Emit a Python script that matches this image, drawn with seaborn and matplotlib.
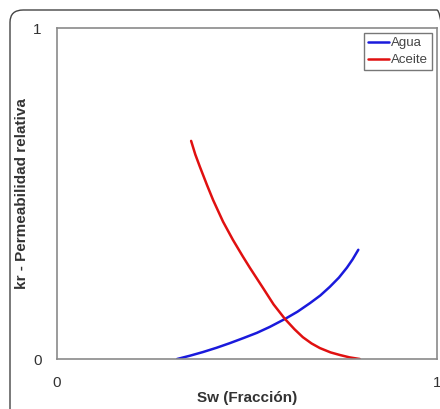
import numpy as np
import pandas as pd
import seaborn as sns
import matplotlib.pyplot as plt
from matplotlib.patches import FancyBboxPatch

# datos
sw_agua = [0.316, 0.350, 0.384, 0.420, 0.455, 0.490, 0.526, 0.560, 0.600, 0.633, 0.666, 0.693, 0.718, 0.742, 0.763, 0.778, 0.793]
kr_agua = [0.0, 0.010, 0.021, 0.034, 0.048, 0.063, 0.079, 0.097, 0.121, 0.143, 0.169, 0.192, 0.218, 0.246, 0.276, 0.301, 0.330]

sw_aceite = [0.353, 0.364, 0.376, 0.395, 0.411, 0.437, 0.463, 0.489, 0.508, 0.525, 0.542, 0.570, 0.600, 0.625, 0.647, 0.670, 0.692, 0.720, 0.745, 0.770, 0.797]
kr_aceite = [0.659, 0.618, 0.581, 0.525, 0.480, 0.415, 0.360, 0.310, 0.275, 0.245, 0.215, 0.165, 0.121, 0.090, 0.066, 0.047, 0.033, 0.020, 0.012, 0.005, 0.0]

df = pd.concat([
    pd.DataFrame({"Sw": sw_agua, "kr": kr_agua, "Fase": "Agua"}),
    pd.DataFrame({"Sw": sw_aceite, "kr": kr_aceite, "Fase": "Aceite"}),
])

sns.set_style("white")
plt.rcParams['font.family'] = ['Liberation Sans', 'DejaVu Sans']

fig = plt.figure(figsize=(4.4, 4.09), dpi=100)
ax = fig.add_axes([0.1295, 0.1222, 0.8636, 0.8093])

sns.lineplot(data=df, x="Sw", y="kr", hue="Fase", palette={"Agua": "#1a1adc", "Aceite": "#e01010"},
             linewidth=1.8, sort=False, ax=ax)

ax.set_xlim(0, 1)
ax.set_ylim(0, 1)
ax.set_xticks([0, 1])
ax.set_yticks([0, 1])
ax.tick_params(axis='x', length=0, pad=12, labelsize=11, colors='#333333')
ax.tick_params(axis='y', length=0, pad=11, labelsize=11, colors='#333333')
for s in ax.spines.values():
    s.set_color('#8a8a8a')
    s.set_linewidth(1.2)

ax.set_xlabel('Sw (Fracción)', fontsize=11, fontweight='bold', color='#333333', labelpad=1)
ax.set_ylabel('kr - Permeabilidad relativa', fontsize=11, fontweight='bold', color='#333333', labelpad=3)

leg = ax.legend(loc='upper right', fontsize=9.5, frameon=True, fancybox=False,
                handlelength=1.6, handletextpad=0.1, borderpad=0.3, labelspacing=0.35,
                borderaxespad=0.4)
leg.get_frame().set_edgecolor('#555555')
leg.get_frame().set_linewidth(1.0)
for t in leg.get_texts():
    t.set_color('#444444')

# marco redondeado exterior
frame = FancyBboxPatch((10 / 440, -0.05), 1.0, 1.0 - 10 / 409 + 0.05,
                       boxstyle="round,pad=0,rounding_size=0.03",
                       transform=fig.transFigure, fill=False,
                       edgecolor='#444444', linewidth=1.0, clip_on=False)
fig.patches.append(frame)

fig.savefig('out.png', dpi=100)
